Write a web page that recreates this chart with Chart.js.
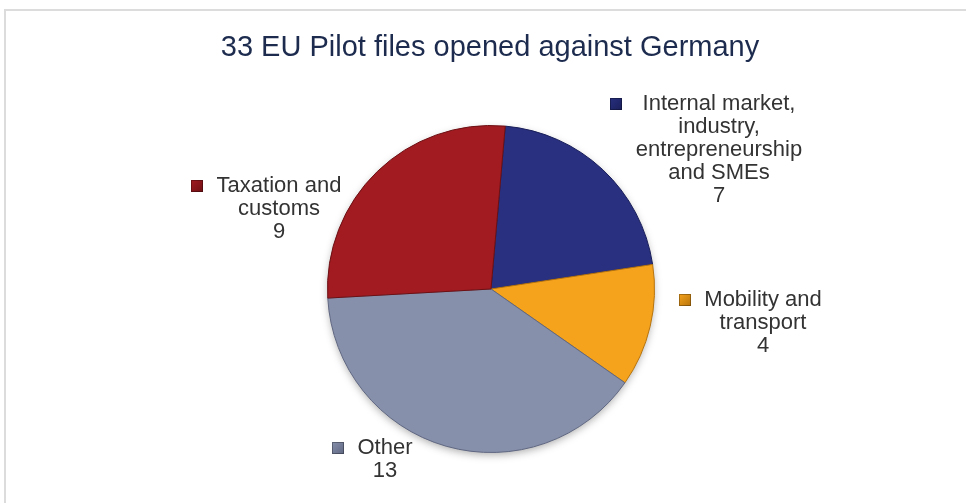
<!DOCTYPE html>
<html>
<head>
<meta charset="utf-8">
<script src="https://cdn.jsdelivr.net/npm/chart.js@4.4.1/dist/chart.umd.min.js"></script>
<style>
    body { margin: 0; background: #fff; }
    #wrap { position: relative; width: 966px; height: 503px; overflow: hidden; }
    #frame { position: absolute; left: 4px; top: 9px; width: 980px; height: 520px; border: 2px solid #dcdcdc; box-sizing: border-box; }
    canvas { position: absolute; left: 0; top: 0; }
</style>
</head>
<body>
<div id="wrap">
    <div id="frame"></div>
    <canvas id="pieChart" width="966" height="503"></canvas>
</div>
<script>
const chartTitle = "33 EU Pilot files opened against Germany"
const categories = [
    ["Internal market,", "industry,", "entrepreneurship", "and SMEs"],
    ["Mobility and", "transport"],
    ["Other"],
    ["Taxation and", "customs"]
]
const files = [7, 4, 13, 9]
const sliceColors = ["#28307f", "#f5a31c", "#8790ab", "#a11b21"]
const edgeColors = ["#1a1f5a", "#b8740c", "#5f6781", "#6e1014"]

// where each label block sits, relative to the pie centre (px)
const labelSpots = [
    { dx: 228, dy: -185, key: 103 },
    { dx: 272, dy: 11, key: 78 },
    { dx: -106, dy: 159, key: 47 },
    { dx: -212, dy: -103, key: 82 }
]
const lineGap = 23

const pieCanvas = document.getElementById("pieChart")

const shadowPlugin = {
    id: 'pieShadow',
    beforeDatasetsDraw: (chart) => {
        const arc = chart.getDatasetMeta(0).data[0]
        const ctx = chart.ctx
        ctx.save()
        ctx.shadowColor = 'rgba(0,0,0,0.35)'
        ctx.shadowBlur = 8
        ctx.shadowOffsetY = 3
        ctx.fillStyle = '#fff'
        ctx.beginPath()
        ctx.arc(arc.x, arc.y, arc.outerRadius - 1, 0, Math.PI * 2)
        ctx.fill()
        ctx.restore()
    }
}

const labelPlugin = {
    id: 'sliceLabels',
    afterDraw: (chart) => {
        const ctx = chart.ctx
        const arcs = chart.getDatasetMeta(0).data
        const cx = arcs[0].x
        const cy = arcs[0].y

        ctx.save()
        ctx.fillStyle = '#1c2b4e'
        ctx.font = '29px Arial, "Liberation Sans", sans-serif'
        ctx.textAlign = 'center'
        ctx.textBaseline = 'middle'
        ctx.fillText(chartTitle, 490, 48)

        ctx.font = '22px Arial, "Liberation Sans", sans-serif'
        categories.forEach((lines, i) => {
            const spot = labelSpots[i]
            const x = cx + spot.dx
            const y = cy + spot.dy
            const rows = lines.concat([String(files[i])])
            ctx.fillStyle = '#333333'
            rows.forEach((row, j) => {
                ctx.fillText(row, x, y + j * lineGap)
            })
            const keyX = x - spot.key
            const grad = ctx.createLinearGradient(keyX - 6, y - 6, keyX + 6, y + 6)
            grad.addColorStop(0, sliceColors[i])
            grad.addColorStop(1, edgeColors[i])
            ctx.fillStyle = grad
            ctx.fillRect(keyX - 6, y - 6, 12, 12)
            ctx.strokeStyle = 'rgba(0,0,0,0.3)'
            ctx.lineWidth = 1
            ctx.strokeRect(keyX - 5.5, y - 5.5, 11, 11)
        })
        ctx.restore()
    }
}

const pieChart = new Chart(pieCanvas, {
    type: 'pie',
    data: {
        labels: categories.map(c => c.join(' ')),
        datasets: [{
            data: files,
            backgroundColor: sliceColors,
            borderColor: edgeColors,
            borderWidth: 1
        }]
    },
    options: {
        responsive: false,
        animation: false,
        rotation: 5,
        layout: {
            padding: { left: 16, right: 0, top: 125, bottom: 50 }
        },
        plugins: {
            legend: { display: false },
            title: { display: false },
            tooltip: { enabled: false }
        }
    },
    plugins: [shadowPlugin, labelPlugin]
})
</script>
</body>
</html>
